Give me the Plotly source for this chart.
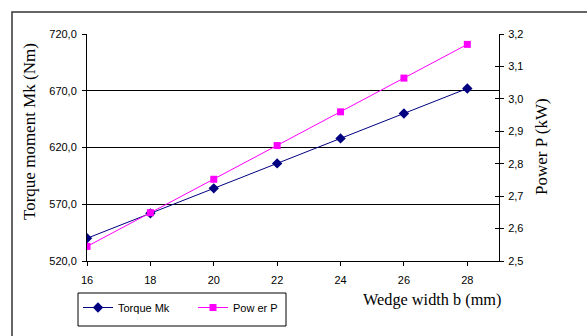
import plotly.graph_objects as go

wedge_width = [16, 18, 20, 22, 24, 26, 28]
torque_mk = [540, 562, 584, 606, 628, 650, 672]
power_p = [2.545, 2.649, 2.752, 2.856, 2.960, 3.064, 3.168]

left_ticks = [520, 570, 620, 670, 720]
right_ticks = [2.5, 2.6, 2.7, 2.8, 2.9, 3.0, 3.1, 3.2]
x_ticks = [16, 18, 20, 22, 24, 26, 28]

W, H = 587, 336
L, R, T, B = 87, 88, 34, 75
pw = W - L - R
ph = H - T - B

def px_x(x):
    return (x - L) / pw

def px_y(y):
    return (H - B - y) / ph

tick_font = dict(family="Liberation Sans, Arial", size=11, color="black")
ytitle_font = dict(family="Liberation Serif, Times New Roman", size=17, color="black")
xtitle_font = dict(family="Liberation Serif, Times New Roman", size=16.3, color="black")

fig = go.Figure()
fig.add_trace(go.Scatter(
    x=wedge_width, y=torque_mk, name="Torque Mk", mode="lines+markers",
    line=dict(color="#000080", width=1),
    marker=dict(symbol="diamond", size=8, color="#000080"),
    yaxis="y"))
fig.add_trace(go.Scatter(
    x=wedge_width, y=power_p, name="Pow er P", mode="lines+markers",
    line=dict(color="#FF00FF", width=1),
    marker=dict(symbol="square", size=7, color="#FF00FF"),
    yaxis="y2"))

fig.update_layout(
    width=W, height=H,
    margin=dict(l=L, r=R, t=T, b=B),
    paper_bgcolor="white", plot_bgcolor="white",
    separators=",.",
    showlegend=True,
    legend=dict(
        orientation="h", x=px_x(78), y=px_y(293), xanchor="left", yanchor="top",
        borderwidth=0, bgcolor="rgba(0,0,0,0)",
        font=dict(family="Liberation Sans, Arial", size=11, color="black"),
        itemwidth=30, tracegroupgap=0,
        entrywidth=70, entrywidthmode="pixels",
    ),
    xaxis=dict(
        range=[16, 29], tickvals=x_ticks, ticktext=[str(v) for v in x_ticks],
        showgrid=False, zeroline=False, showline=True, linecolor="black", linewidth=1,
        ticks="outside", ticklen=4, tickcolor="black", tickfont=tick_font,
        ticklabelstandoff=5,
    ),
    yaxis=dict(
        range=[520, 720], tickvals=left_ticks, tickformat=".1f",
        showgrid=True, gridcolor="black", gridwidth=1, zeroline=False,
        showline=True, linecolor="black", linewidth=1,
        ticks="outside", ticklen=4, tickcolor="black", tickfont=tick_font,
        ticklabelstandoff=3,
    ),
    yaxis2=dict(
        range=[2.5, 3.2], tickvals=right_ticks, tickformat=".1f",
        overlaying="y", side="right", anchor="x",
        showgrid=False, zeroline=False, showline=True, linecolor="black", linewidth=1,
        ticks="outside", ticklen=4, tickcolor="black", tickfont=tick_font,
        ticklabelstandoff=2,
    ),
    yaxis3=dict(
        range=[2.5, 3.2], tickvals=right_ticks, overlaying="y", side="right", anchor="x",
        showgrid=False, zeroline=False, showline=False, showticklabels=False,
        ticks="inside", ticklen=4, tickcolor="black",
    ),
)

fig.add_trace(go.Scatter(x=[None], y=[None], yaxis="y3", showlegend=False, hoverinfo="skip"))

# outer chart border
fig.add_shape(type="rect", xref="paper", yref="paper",
              x0=px_x(12), y0=px_y(400), x1=px_x(640), y1=px_y(12),
              line=dict(color="#333333", width=1.5), fillcolor="rgba(0,0,0,0)", layer="below")
# legend box
fig.add_shape(type="rect", xref="paper", yref="paper",
              x0=px_x(78), y0=px_y(326), x1=px_x(286), y1=px_y(293),
              line=dict(color="black", width=1), fillcolor="rgba(0,0,0,0)", layer="below")

fig.add_annotation(text="Torque moment Mk (Nm)", xref="paper", yref="paper",
                   x=px_x(29), y=px_y(132), textangle=-90, showarrow=False,
                   font=ytitle_font, xanchor="center", yanchor="middle")
fig.add_annotation(text="Power P (kW)", xref="paper", yref="paper",
                   x=px_x(541), y=px_y(147), textangle=-90, showarrow=False,
                   font=ytitle_font, xanchor="center", yanchor="middle")
fig.add_annotation(text="Wedge width b (mm)", xref="paper", yref="paper",
                   x=px_x(432), y=px_y(299), showarrow=False,
                   font=xtitle_font, xanchor="center", yanchor="middle")

fig.write_html("out.html")
